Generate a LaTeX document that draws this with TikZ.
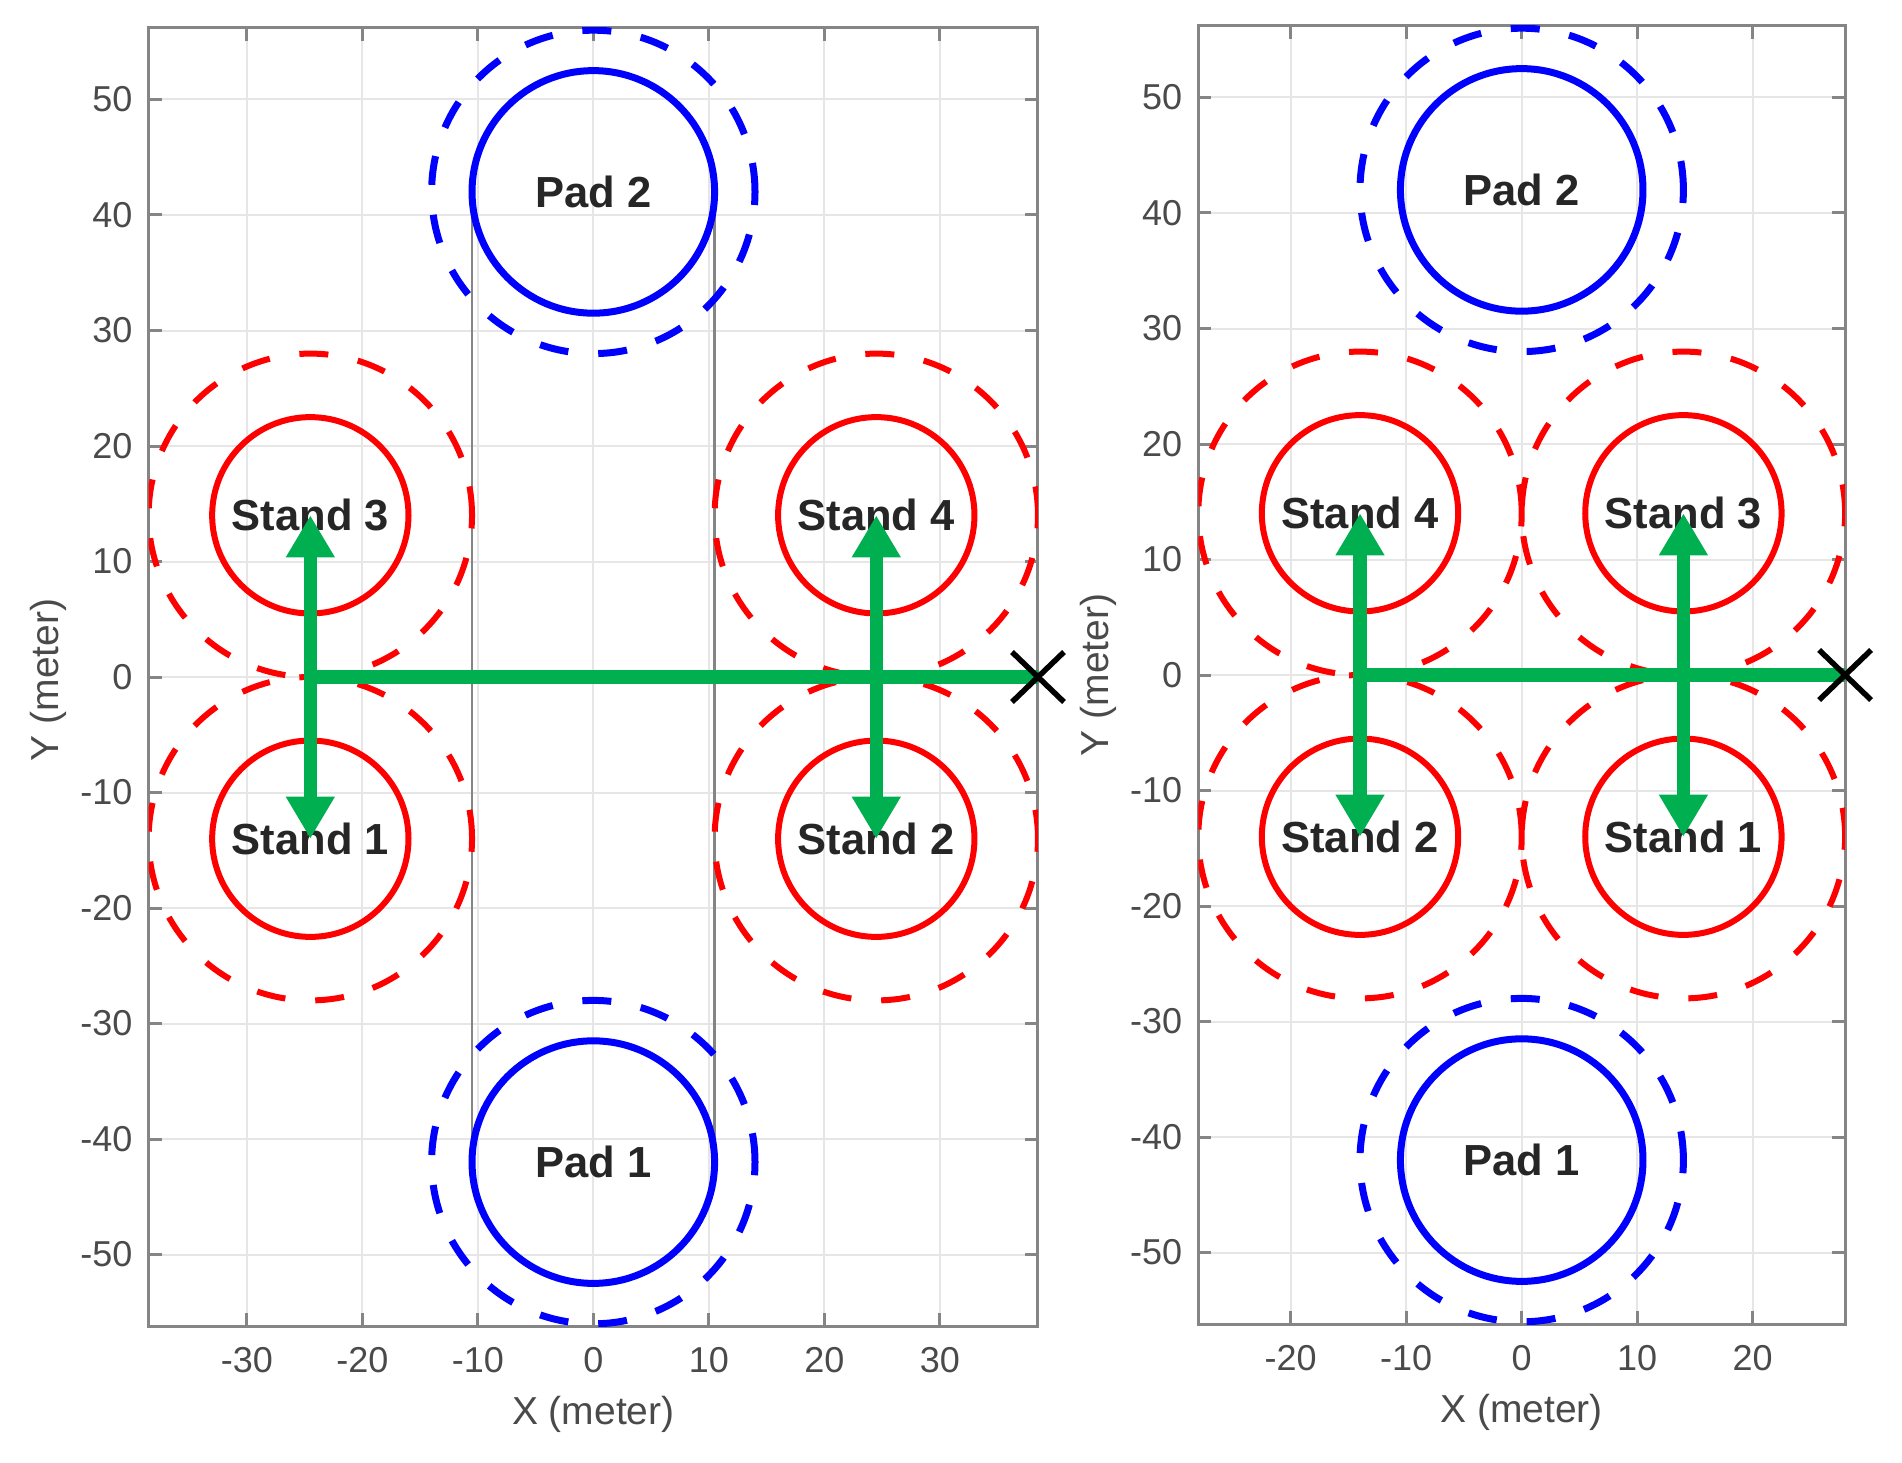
\documentclass[tikz,border=0pt]{standalone}
\usepackage{fontspec}
\setmainfont{Liberation Sans}
\usetikzlibrary{arrows.meta}
\definecolor{axgray}{HTML}{858585}
\definecolor{gridgray}{HTML}{E6E6E6}
\definecolor{txtgray}{HTML}{4A4A4A}
\definecolor{arrgreen}{HTML}{00B050}
\definecolor{padblue}{HTML}{0000FF}
\definecolor{standred}{HTML}{FF0000}
\definecolor{lblblack}{HTML}{262626}
\tikzset{
  gridln/.style={draw=gridgray, line width=2pt},
  axln/.style={draw=axgray, line width=3pt},
  sepln/.style={draw=axgray, line width=2.5pt},
  ticklbl/.style={font=\fontsize{36}{40}\selectfont, text=txtgray, inner sep=0pt},
  axlbl/.style={font=\fontsize{39}{44}\selectfont, text=txtgray, inner sep=0pt},
  sitelbl/.style={font=\fontsize{43.5}{48}\selectfont\bfseries, text=lblblack, inner sep=0pt},
  solidred/.style={draw=standred, line width=6pt},
  dashedred/.style={draw=standred, line width=6pt, dash pattern=on 29pt off 30pt},
  solidblue/.style={draw=padblue, line width=7pt},
  dashedblue/.style={draw=padblue, line width=7pt, dash pattern=on 29pt off 30pt},
  greenarrow/.style={draw=arrgreen, line width=13.5pt, -{Triangle[length=42pt,width=46pt]}},
  greenline/.style={draw=arrgreen, line width=13.5pt},
  xmark/.style={draw=black, line width=5.5pt},
}
\begin{document}
\begin{tikzpicture}[x=1pt,y=-1pt]
\useasboundingbox (0,0) rectangle (1902,1463);
\fill[white] (0,0) rectangle (1902,1463);

% ================= LEFT PLOT =================
\begin{scope}[shift={(593.3pt,-677pt)}, x=11.55pt, y=11.55pt]
  \def\xl{38.5}\def\yl{56.2}
  \foreach \gx in {-30,-20,...,30} \draw[gridln] (\gx,-\yl) -- (\gx,\yl);
  \foreach \gy in {-50,-40,...,50} \draw[gridln] (-\xl,\gy) -- (\xl,\gy);
  \draw[axln] (-\xl,-\yl) rectangle (\xl,\yl);
  \foreach \gx in {-30,-20,...,30} {
    \draw[axln] (\gx,-\yl) -- ++(0pt,13pt);
    \draw[axln] (\gx,\yl) -- ++(0pt,-13pt);
    \node[ticklbl] (lxt\gx) at ([yshift=-34pt]\gx,-\yl) {\gx};
  }
  \foreach \gy in {-50,-40,...,50} {
    \draw[axln] (-\xl,\gy) -- ++(13pt,0pt);
    \draw[axln] (\xl,\gy) -- ++(-13pt,0pt);
    \node[ticklbl, anchor=east] (lyt\gy) at ([xshift=-16pt]-\xl,\gy) {\gy};
  }
  \coordinate (Lp2) at (0,42);
  \coordinate (Lp1) at (0,-42);
  \coordinate (Ls3) at (-24.5,14);
  \coordinate (Ls4) at (24.5,14);
  \coordinate (Ls1) at (-24.5,-14);
  \coordinate (Ls2) at (24.5,-14);
  \begin{scope}
    \clip (-\xl,-\yl) rectangle (\xl,\yl);
    \draw[sepln] (-10.5,42) -- (-10.5,-42);
    \draw[sepln] (10.5,42) -- (10.5,-42);
    \foreach \c in {Ls1,Ls2,Ls3,Ls4} {
      \draw[dashedred] (\c) circle (14);
      \draw[solidred] (\c) circle (8.5);
    }
    \foreach \c in {Lp1,Lp2} {
      \draw[dashedblue] (\c) circle (14);
      \draw[solidblue] (\c) circle (10.5);
    }
  \end{scope}
  \node[sitelbl] (LP2) at (Lp2) {Pad 2};
  \node[sitelbl] (LP1) at (Lp1) {Pad 1};
  \node[sitelbl] (LS3) at (Ls3) {Stand 3};
  \node[sitelbl] (LS4) at (Ls4) {Stand 4};
  \node[sitelbl] (LS1) at (Ls1) {Stand 1};
  \node[sitelbl] (LS2) at (Ls2) {Stand 2};
  \coordinate (Lhubw) at (-24.5,0);
  \coordinate (Lhube) at (24.5,0);
  \coordinate (Lx) at (\xl,0);
  \draw[greenline] (Lhubw) -- (Lx);
  \draw[greenarrow] (Lhubw) -- (LS3.center);
  \draw[greenarrow] (Lhubw) -- (LS1.center);
  \draw[greenarrow] (Lhube) -- (LS4.center);
  \draw[greenarrow] (Lhube) -- (LS2.center);
  \draw[xmark] ([shift={(-26pt,-25pt)}]Lx) -- ([shift={(26pt,25pt)}]Lx);
  \draw[xmark] ([shift={(-26pt,25pt)}]Lx) -- ([shift={(26pt,-25pt)}]Lx);
\end{scope}
\node[axlbl, anchor=base] (LXlbl) at (593.3,1424) {X (meter)};
\node[axlbl, anchor=base, rotate=90] (LYlbl) at (58.3,680) {Y (meter)};

% ================= RIGHT PLOT =================
\begin{scope}[shift={(1521.7pt,-675pt)}, x=11.55pt, y=11.55pt]
  \def\xl{28}\def\yl{56.2}
  \foreach \gx in {-20,-10,...,20} \draw[gridln] (\gx,-\yl) -- (\gx,\yl);
  \foreach \gy in {-50,-40,...,50} \draw[gridln] (-\xl,\gy) -- (\xl,\gy);
  \draw[axln] (-\xl,-\yl) rectangle (\xl,\yl);
  \foreach \gx in {-20,-10,...,20} {
    \draw[axln] (\gx,-\yl) -- ++(0pt,13pt);
    \draw[axln] (\gx,\yl) -- ++(0pt,-13pt);
    \node[ticklbl] (rxt\gx) at ([yshift=-34pt]\gx,-\yl) {\gx};
  }
  \foreach \gy in {-50,-40,...,50} {
    \draw[axln] (-\xl,\gy) -- ++(13pt,0pt);
    \draw[axln] (\xl,\gy) -- ++(-13pt,0pt);
    \node[ticklbl, anchor=east] (ryt\gy) at ([xshift=-16pt]-\xl,\gy) {\gy};
  }
  \coordinate (Rp2) at (0,42);
  \coordinate (Rp1) at (0,-42);
  \coordinate (Rs4) at (-14,14);
  \coordinate (Rs3) at (14,14);
  \coordinate (Rs2) at (-14,-14);
  \coordinate (Rs1) at (14,-14);
  \begin{scope}
    \clip (-\xl,-\yl) rectangle (\xl,\yl);
    \foreach \c in {Rs1,Rs2,Rs3,Rs4} {
      \draw[dashedred] (\c) circle (14);
      \draw[solidred] (\c) circle (8.5);
    }
    \foreach \c in {Rp1,Rp2} {
      \draw[dashedblue] (\c) circle (14);
      \draw[solidblue] (\c) circle (10.5);
    }
  \end{scope}
  \node[sitelbl] (RP2) at (Rp2) {Pad 2};
  \node[sitelbl] (RP1) at (Rp1) {Pad 1};
  \node[sitelbl] (RS4) at (Rs4) {Stand 4};
  \node[sitelbl] (RS3) at (Rs3) {Stand 3};
  \node[sitelbl] (RS2) at (Rs2) {Stand 2};
  \node[sitelbl] (RS1) at (Rs1) {Stand 1};
  \coordinate (Rhubw) at (-14,0);
  \coordinate (Rhube) at (14,0);
  \coordinate (Rx) at (\xl,0);
  \draw[greenline] (Rhubw) -- (Rx);
  \draw[greenarrow] (Rhubw) -- (RS4.center);
  \draw[greenarrow] (Rhubw) -- (RS2.center);
  \draw[greenarrow] (Rhube) -- (RS3.center);
  \draw[greenarrow] (Rhube) -- (RS1.center);
  \draw[xmark] ([shift={(-26pt,-25pt)}]Rx) -- ([shift={(26pt,25pt)}]Rx);
  \draw[xmark] ([shift={(-26pt,25pt)}]Rx) -- ([shift={(26pt,-25pt)}]Rx);
\end{scope}
\node[axlbl, anchor=base] (RXlbl) at (1521.7,1422) {X (meter)};
\node[axlbl, anchor=base, rotate=90] (RYlbl) at (1108.5,675) {Y (meter)};
\end{tikzpicture}
\end{document}
